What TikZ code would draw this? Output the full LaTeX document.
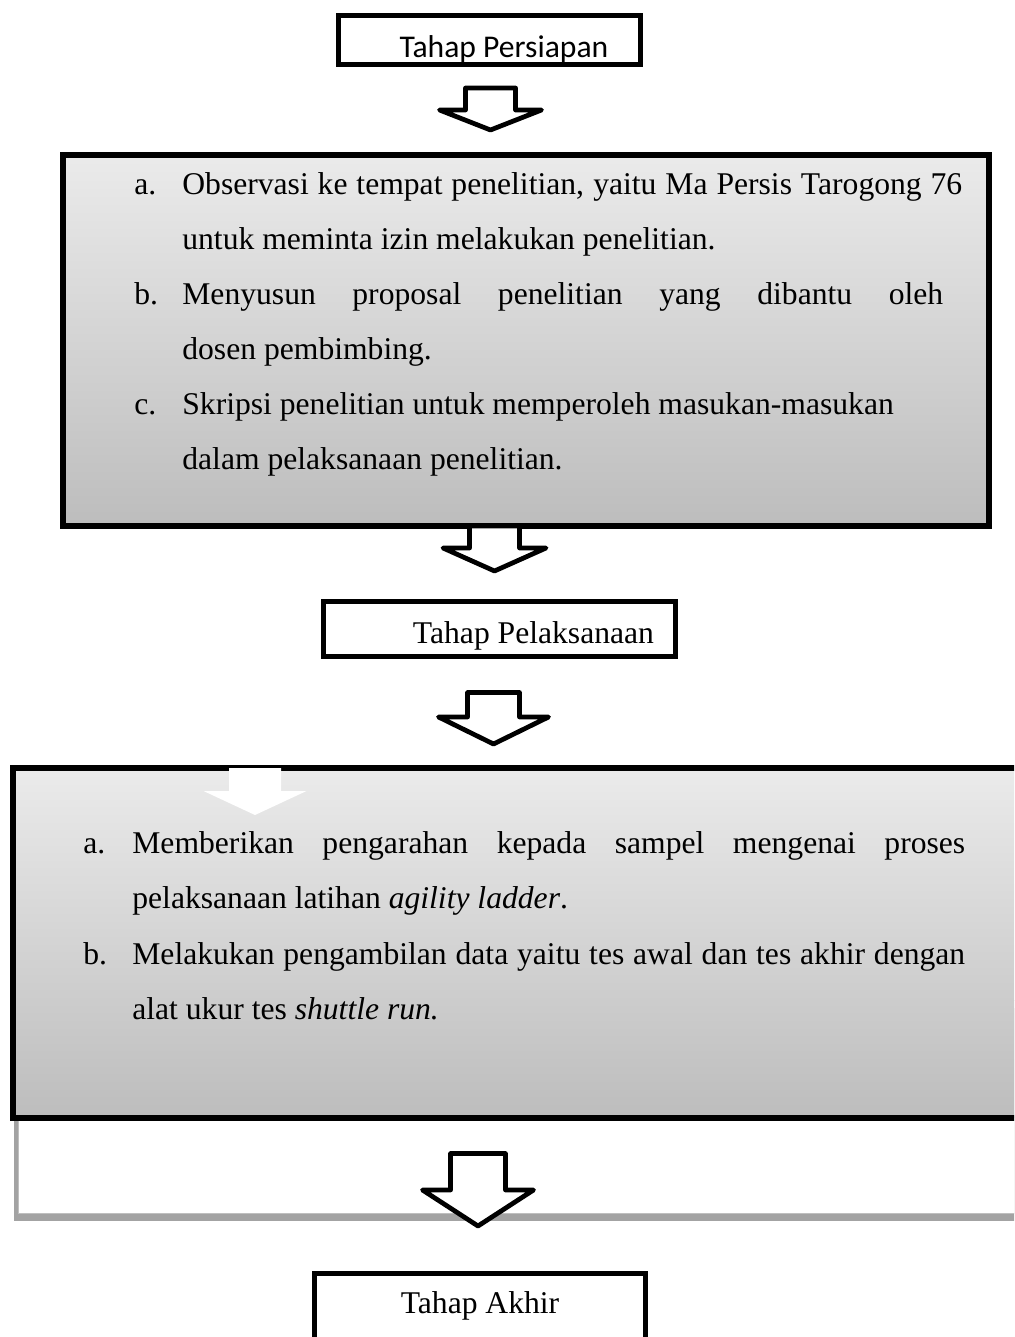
\documentclass[tikz,border=0pt]{standalone}
\usepackage{fontspec}
\setmainfont{Liberation Serif}
\newfontfamily\calibrifont{Carlito}
\usetikzlibrary{shadows}

\begin{document}
\begin{tikzpicture}[
  x=0.02cm, y=-0.02cm,
  every node/.style={font=\fontsize{18}{31.3}\selectfont},
  stagebox/.style={rectangle, draw, line width=2.8pt, fill=white, inner sep=0pt},
  bigbox/.style={rectangle, draw, line width=3.4pt, top color=black!8,
                 bottom color=black!26, inner sep=0pt},
  panel/.style={rectangle, draw=black!25, line width=0.6pt, fill=white,
                drop shadow={shadow xshift=-0.09cm, shadow yshift=-0.15cm,
                             fill=black!60, opacity=.6}},
  itemlabel/.style={anchor=base west, inner sep=0pt},
  itemtext/.style={anchor=base west, inner sep=0pt, align=justify},
  arrowline/.style={draw, line width=2.7pt, line join=round, fill=white},
  pics/blockarrow/.style n args={4}{code={
    \path[pic actions] (-#1,0) -- (#1,0) -- (#1,#2) -- (#3,#2) -- (0,#4)
      -- (-#3,#2) -- (-#1,#2) -- cycle;
  }},
]
  \useasboundingbox (0,0) rectangle (1014,1337);
  \clip (0,0) rectangle (1014,1337);

  % tahap persiapan
  \node[stagebox, minimum width=6.04cm, minimum height=0.98cm,
        text height=22.5pt, text depth=3pt,
        font=\calibrifont\fontsize{18}{22}\selectfont]
    (persiapan) at (489.5,40) {\hspace*{0.58cm}Tahap Persiapan};
  \pic[arrowline] at (490.5,88) {blockarrow={25}{22}{51}{42}};

  \node[bigbox, minimum width=18.52cm, minimum height=7.42cm,
        drop shadow={shadow xshift=0.06cm, shadow yshift=-0.06cm, opacity=.25}]
    (prep) at (526,340.5) {};
  \node[itemlabel] (la) at (134,195) {a.};
  \node[itemtext, text width=15.6cm] (ta) at (182,195)
    {Observasi ke tempat penelitian, yaitu Ma Persis Tarogong 76\linebreak
     untuk meminta izin melakukan penelitian.};
  \node[itemlabel] (lb) at (134,305) {b.};
  \node[itemtext, text width=15.22cm] (tb) at (182,305)
    {Menyusun proposal penelitian yang dibantu oleh\linebreak
     dosen pembimbing.};
  \node[itemlabel] (lc) at (134,415) {c.};
  \node[itemtext, text width=15.6cm] (tc) at (182,415)
    {Skripsi penelitian untuk memperoleh masukan-masukan\\
     dalam pelaksanaan penelitian.};
  \pic[arrowline] at (494.5,526) {blockarrow={25}{22}{51.5}{45}};

  % tahap pelaksanaan
  \node[stagebox, minimum width=7.04cm, minimum height=1.1cm,
        text height=18.9pt, text depth=2.9pt]
    (pelaksanaan) at (499.5,629) {\hspace*{1.36cm}Tahap Pelaksanaan};
  \pic[arrowline] at (493.5,692.5) {blockarrow={26}{24.5}{55}{51.5}};

  \node[panel, minimum width=20.83cm, minimum height=4.27cm]
    (gap) at (539,1106.75) {};
  \node[bigbox, minimum width=20.54cm, minimum height=7cm]
    (exec) at (526.5,943) {};
  \pic[fill=white] at (255,768) {blockarrow={26}{23}{51.5}{47}};
  \node[itemlabel] (pa) at (83,853) {a.};
  \node[itemtext, text width=16.66cm] (qa) at (132,853)
    {Memberikan pengarahan kepada sampel mengenai proses\linebreak
     pelaksanaan latihan \textit{agility ladder}.};
  \node[itemlabel] (pb) at (83,964) {b.};
  \node[itemtext, text width=16.66cm] (qb) at (132,964)
    {Melakukan pengambilan data yaitu tes awal dan tes akhir dengan\linebreak
     alat ukur tes \textit{shuttle run.}};
  \pic[arrowline] at (478,1153.5) {blockarrow={27.5}{36.5}{55.5}{72.5}};

  % tahap akhir
  \node[stagebox, line width=2.6pt, minimum width=6.62cm, minimum height=1.6cm,
        text height=12pt, text depth=12pt]
    (akhir) at (480,1313.5) {Tahap Akhir};
\end{tikzpicture}
\end{document}
